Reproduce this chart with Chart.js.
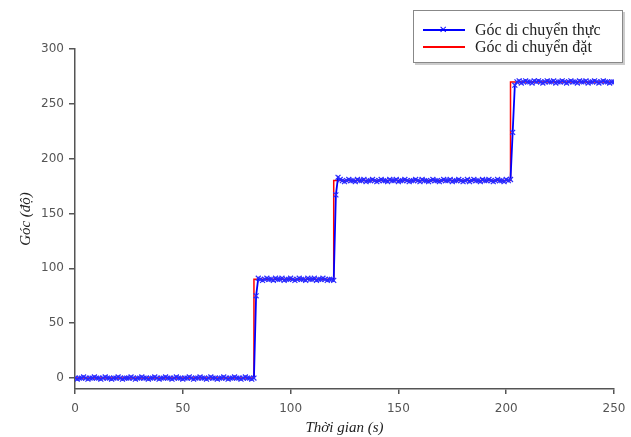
<!DOCTYPE html>
<html>
<head>
<meta charset="utf-8">
<script src="https://cdn.jsdelivr.net/npm/chart.js@4/dist/chart.umd.min.js"></script>
<style>
  html, body { margin: 0; padding: 0; background: #fff; }
  #wrap { position: relative; width: 631px; height: 437px; }
  #legend {
    position: absolute; left: 413px; top: 10px; width: 208px; height: 51px;
    border: 1px solid #888; box-shadow: 2px 2px 0 #ccc; background: #fff;
    font-family: "Liberation Serif", serif; font-size: 16px; color: #222;
  }
  .item { position: absolute; left: 9px; height: 17px; line-height: 17px; }
  .item .swatch { position: absolute; left: 0; top: 8px; width: 42px; height: 2px; }
  .item .label { position: absolute; left: 52px; white-space: nowrap; }
  .mark { position: absolute; left: 16px; top: 2px; font: 10px "DejaVu Sans", sans-serif; color: #00f; line-height: 14px; }
</style>
</head>
<body>
<div id="wrap">
  <canvas id="chart" width="631" height="437"></canvas>
  <div id="legend"></div>
</div>
<script>
// Legend names
const seriesNames = ['Góc di chuyển thực', 'Góc di chuyển đặt'];

// Setpoint (red step line)
const setTime = [0, 83, 83, 120, 120, 202, 202, 250];
const setAngle = [0, 0, 90, 90, 180, 180, 270, 270];

// Measured angle, sampled every second from t = 0 to 250
const sampleStep = 1;
const actualAngle = [
  // t = 0..83
  0, -1, 0, 0, 1, 0, -1, 0, 0, 1,
  0, 0, -1, 0, 1, 0, 0, -1, 0, 0,
  1, 0, -1, 0, 0, 0, 1, 0, -1, 0,
  0, 1, 0, 0, -1, 0, 0, 1, 0, -1,
  0, 0, 1, 0, 0, -1, 0, 1, 0, 0,
  -1, 0, 0, 1, 0, -1, 0, 0, 1, 0,
  0, -1, 0, 1, 0, 0, -1, 0, 0, 1,
  0, -1, 0, 0, 1, 0, 0, -1, 0, 1,
  0, 0, -1, 0,
  // t = 84
  75,
  // t = 85..120
  91, 90, 89, 90, 91, 90, 90, 89, 91, 90,
  90, 91, 89, 90, 90, 91, 90, 89, 90, 91,
  90, 90, 89, 91, 90, 90, 91, 89, 90, 90,
  91, 90, 89, 90, 90, 89,
  // t = 121, 122
  167, 183,
  // t = 123..202
  181, 180, 179, 180, 181, 180, 180, 179, 181, 180,
  180, 181, 179, 180, 180, 181, 180, 179, 180, 181,
  180, 180, 179, 181, 180, 180, 181, 179, 180, 180,
  181, 180, 179, 180, 180, 181, 180, 179, 181, 180,
  180, 179, 180, 181, 180, 180, 179, 180, 181, 180,
  180, 181, 179, 180, 180, 181, 180, 179, 180, 181,
  179, 180, 181, 180, 180, 179, 181, 180, 180, 181,
  180, 179, 180, 181, 180, 180, 179, 181, 180, 181,
  // t = 203, 204
  224, 267,
  // t = 205..250
  270, 271, 269, 270, 271, 270, 270, 269, 271, 270,
  271, 270, 269, 270, 271, 270, 270, 271, 269, 270,
  270, 271, 270, 269, 270, 271, 270, 270, 269, 271,
  270, 270, 271, 269, 270, 270, 271, 270, 269, 270,
  271, 270, 270, 269, 270, 270
];

// Axis ticks
const xTicks = [0, 50, 100, 150, 200, 250];
const yTicks = [0, 50, 100, 150, 200, 250, 300];

const actualPoints = actualAngle.map((v, i) => ({ x: i * sampleStep, y: v }));
const setPoints = setTime.map((t, i) => ({ x: t, y: setAngle[i] }));

const tickFont = { family: 'DejaVu Sans', size: 12 };
const titleFont = { family: 'Liberation Serif', size: 15, style: 'italic' };

new Chart(document.getElementById('chart'), {
  type: 'line',
  data: {
    datasets: [
      {
        label: seriesNames[1],
        data: setPoints,
        borderColor: '#ff0000',
        borderWidth: 1.5,
        pointRadius: 0,
        tension: 0,
        order: 2
      },
      {
        label: seriesNames[0],
        data: actualPoints,
        borderColor: '#0000ff',
        borderWidth: 1.8,
        pointStyle: 'crossRot',
        pointRadius: 3.5,
        pointBorderColor: '#2a2aff',
        pointBorderWidth: 1.2,
        tension: 0,
        order: 1
      }
    ]
  },
  options: {
    responsive: false,
    animation: false,
    layout: { padding: { top: 49, right: 17, left: 0, bottom: 0 } },
    plugins: { legend: { display: false }, tooltip: { enabled: false } },
    scales: {
      x: {
        type: 'linear',
        min: 0,
        max: 250,
        afterBuildTicks: (s) => { s.ticks = xTicks.map(v => ({ value: v })); },
        afterFit: (s) => { s.height = 48; s.paddingRight = 0; s.paddingLeft = 0; },
        grid: { display: true, drawOnChartArea: false, drawTicks: true, tickLength: 5, color: '#555', lineWidth: 1.5 },
        border: { display: true, color: '#555', width: 1.5 },
        ticks: { font: tickFont, color: '#555', padding: 8, maxRotation: 0 },
        title: { display: true, text: 'Thời gian (s)', font: titleFont, color: '#222', padding: { top: 0, bottom: 0 } }
      },
      y: {
        min: -10,
        max: 300,
        afterBuildTicks: (s) => { s.ticks = yTicks.map(v => ({ value: v })); },
        afterFit: (s) => { s.width = 75; s.paddingTop = 0; s.paddingBottom = 0; },
        grid: { display: true, drawOnChartArea: false, drawTicks: true, tickLength: 6, color: '#555', lineWidth: 1.5 },
        border: { display: true, color: '#555', width: 1.5 },
        ticks: { font: tickFont, color: '#555', padding: 5 },
        title: { display: true, text: 'Góc (độ)', font: titleFont, color: '#222', padding: { top: 17, bottom: 0 } }
      }
    }
  }
});

// HTML legend box
const legend = document.getElementById('legend');
[{ name: seriesNames[0], color: '#0000ff', mark: true, top: 18 },
 { name: seriesNames[1], color: '#ff0000', mark: false, top: 35 }].forEach((it) => {
  const row = document.createElement('div');
  row.className = 'item';
  row.style.top = (it.top - 8) + 'px';
  row.innerHTML = '<span class="swatch" style="background:' + it.color + '"></span>' +
    (it.mark ? '<span class="mark">✕</span>' : '') +
    '<span class="label">' + it.name + '</span>';
  legend.appendChild(row);
});
</script>
</body>
</html>
